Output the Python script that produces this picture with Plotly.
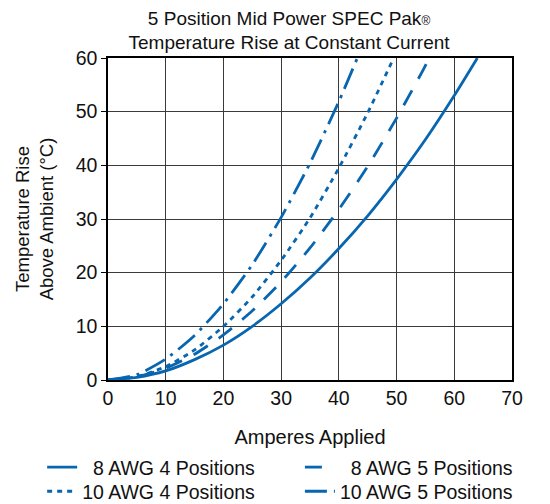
import plotly.graph_objects as go

# Data (Amperes vs temperature rise °C)
awg8_4_x = [0, 5, 10, 15, 20, 25, 30, 35, 40, 45, 50, 55, 60, 64]
awg8_4_y = [0, 0.5, 1.7, 3.8, 6.5, 10.0, 14.2, 19.0, 24.5, 30.6, 37.4, 44.8, 53.0, 60]

awg8_5_x = [0, 5, 10, 15, 20, 25, 30, 35, 40, 45, 50, 55, 55.6]
awg8_5_y = [0, 0.6, 2.2, 4.8, 8.4, 12.9, 18.3, 24.6, 31.8, 39.8, 48.8, 58.6, 60]

awg10_4_x = [0, 5, 10, 15, 20, 25, 30, 35, 40, 45, 49.5]
awg10_4_y = [0, 0.6, 2.5, 5.6, 10.0, 15.5, 22.3, 30.2, 39.5, 49.8, 60]

awg10_5_x = [0, 5, 10, 15, 20, 25, 30, 35, 40, 43.2]
awg10_5_y = [0, 1.0, 3.9, 8.3, 14.2, 21.5, 30.3, 40.4, 51.9, 60]

names = ["\u00a0\u00a08 AWG 4 Positions", "\u00a0\u00a08 AWG 5 Positions",
         "10 AWG 4 Positions", "10 AWG 5 Positions"]
x_ticks = [0, 10, 20, 30, 40, 50, 60, 70]
y_ticks = [0, 10, 20, 30, 40, 50, 60]

color = "#0866B0"
series = [
    (awg8_4_x, awg8_4_y, "solid", "legend"),
    (awg8_5_x, awg8_5_y, "17px,13px", "legend2"),
    (awg10_4_x, awg10_4_y, "5px,5px", "legend3"),
    (awg10_5_x, awg10_5_y, "22px,7px,3px,7px", "legend4"),
]

fig = go.Figure()
for (xs, ys, dash, leg), name in zip(series, names):
    fig.add_trace(go.Scatter(x=xs, y=ys, mode="lines", name=name, legend=leg,
                             line=dict(color=color, width=2.8, dash=dash, shape="spline", smoothing=0.6)))

FAM = "Liberation Sans, Arial, sans-serif"
font = dict(family=FAM, color="#111", size=19)
axis_common = dict(showline=True, linecolor="black", linewidth=1.5, mirror=True,
                   showgrid=True, gridcolor="#3a3a3a", gridwidth=1, zeroline=False,
                   tickfont=dict(size=19.5), automargin=False)

legend_common = dict(orientation="v", yanchor="top", xanchor="left",
                     font=dict(size=19.5), bgcolor="rgba(0,0,0,0)")

col1_x, col2_x = -0.163, 0.475
row1_y, row2_y = -0.211, -0.286

fig.update_layout(
    width=550, height=504,
    margin=dict(l=100, r=46, t=50, b=132, autoexpand=False),
    paper_bgcolor="white", plot_bgcolor="white",
    font=font,
    title=dict(text="5 Position Mid Power SPEC Pak<span style=\"font-size:12px\">®</span><br>Temperature Rise at Constant Current",
               x=0.511, xanchor="center", y=0.967, yanchor="middle",
               font=dict(size=19)),
    xaxis=dict(range=[0, 70], tickvals=x_ticks, ticks="",
               title=dict(text="Amperes Applied", standoff=22, font=dict(size=20)), **axis_common),
    yaxis=dict(range=[0, 60], tickvals=y_ticks, ticks="outside", ticklen=5, tickcolor="black",
               title=dict(text="Temperature Rise<br>Above Ambient (°C)", standoff=17, font=dict(size=18.5)),
               **axis_common),
    showlegend=True,
    legend=dict(x=col1_x, y=row1_y, **legend_common),
    legend2=dict(x=col2_x, y=row1_y, **legend_common),
    legend3=dict(x=col1_x, y=row2_y, **legend_common),
    legend4=dict(x=col2_x, y=row2_y, **legend_common),
)

fig.write_html("out.html")
